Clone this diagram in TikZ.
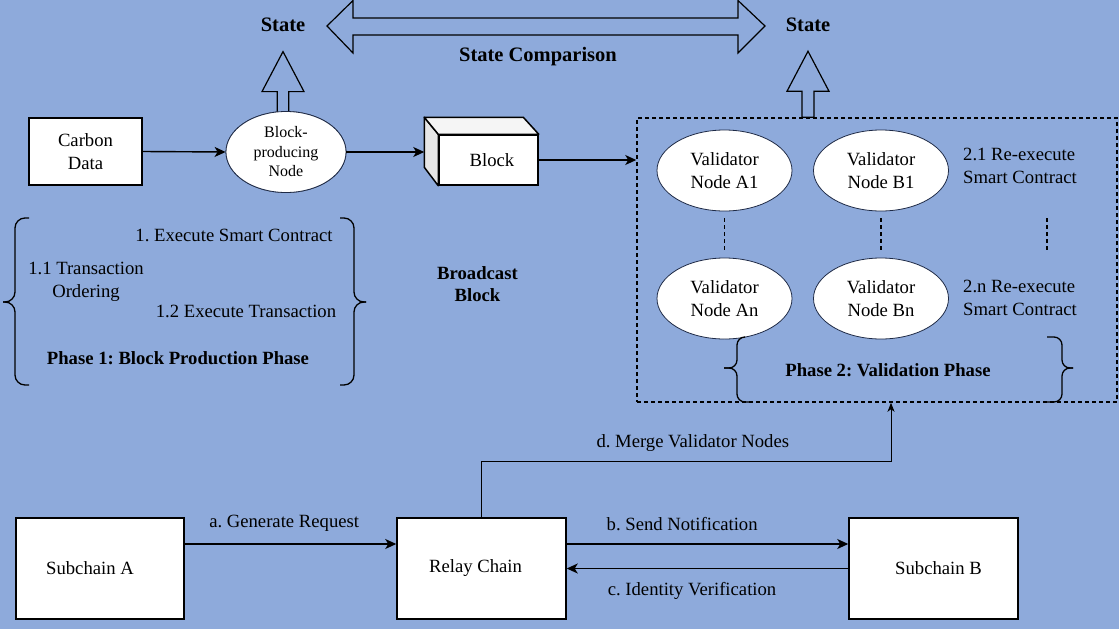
\documentclass[tikz,border=0pt]{standalone}
\usepackage{fontspec}
\setmainfont{Liberation Serif}
\usetikzlibrary{arrows.meta,calc,shapes.geometric}
\frenchspacing

\definecolor{bgblue}{RGB}{142,170,219}
\definecolor{rimnavy}{RGB}{30,42,70}
\definecolor{sidegray}{RGB}{230,230,230}
\definecolor{topgray}{RGB}{245,245,245}

\newcommand{\txtnormal}{\fontsize{18.67}{22.4}\selectfont}
\newcommand{\txtsmall}{\fontsize{16}{19.5}\selectfont}
\newcommand{\txthead}{\fontsize{20.5}{24}\selectfont\bfseries}

\begin{document}
\begin{tikzpicture}[
    x=1pt, y=-1pt,
    every node/.style={font=\txtnormal, inner sep=0pt, align=center},
    box/.style={rectangle, draw, line width=1.5pt, fill=white},
    oval/.style={ellipse, draw=rimnavy, line width=0.8pt, fill=white},
    arr/.style={-{Stealth[length=11pt,width=10pt,inset=3pt]}, line width=1.4pt},
    arrthin/.style={-{Stealth[length=9pt,width=7pt,inset=2.5pt]}, line width=1pt},
    blockarrow/.style={draw, line width=1.2pt, fill=bgblue, line join=miter},
    brc/.style={line width=1.3pt, rounded corners=10pt},
    vdash/.style={line width=1.2pt, dash pattern=on 4pt off 3pt}
]

\fill[bgblue] (0,0) rectangle (1119,629);
\useasboundingbox (0,0) rectangle (1119,629);

% state comparison at the top
\node[font=\txthead] (stateL) at (283,25) {State};
\node[font=\txthead] (stateR) at (808,25) {State};
\node[font=\txthead] (compare) at (538,57) {State Comparison};
\draw[blockarrow] (327,26) -- (353,0.5) -- (353,18) -- (738,18) -- (738,0.5) -- (765,26)
    -- (738,53) -- (738,35) -- (353,35) -- (353,53) -- cycle;

% phase 1
\node[box, minimum width=113pt, minimum height=67pt] (carbon) at (85.5,151.5) {Carbon\\Data};
\node[oval, minimum width=120pt, minimum height=81pt] (bpn) at (286,152) {};
\draw[blockarrow, shift={(bpn.north -| stateL)}] (-5.75,6) -- (-5.75,-19.5) -- (-21,-19.5) -- (0,-59.5)
    -- (21,-19.5) -- (5.75,-19.5) -- (5.75,6) -- cycle;
\node[oval, minimum width=120pt, minimum height=81pt] (bpn) at (286,152) {};
\node[font=\txtsmall] (bpntext) at (bpn.center) {Block-\\producing\\Node};

\node[box, minimum width=99pt, minimum height=50pt] (block) at (488.5,160) {\hspace{7pt}Block};
\draw[line width=1.5pt, fill=sidegray, line join=round] (block.north west) -- ++(-14,-17) -- ++(0,50) -- (block.south west) -- cycle;
\draw[line width=1.5pt, fill=topgray, line join=round] (block.north west) -- ++(-14,-17) -- ++(99,0) -- (block.north east) -- cycle;
\coordinate (blkback) at ($(block.north west)+(-14,-17)$);

\draw[arr] (carbon.east) -- (bpn.west);
\draw[arr] (bpn.east) -- (bpn.east -| blkback);

\node (exec) at (234,235) {1. Execute Smart Contract};
\node (order) at (86,282) {1.1 Transaction\\Ordering};
\node (exectx) at (246,311) {1.2 Execute Transaction};
\node[font=\txtnormal\bfseries] (phase1) at (178,358) {Phase 1: Block Production Phase};
\draw[brc] (29,218) -- (15,218) -- (15,302) -- (3,302);
\draw[brc] (29,385) -- (15,385) -- (15,302) -- (3,302);
\draw[brc] (340,218) -- (354,218) -- (354,302) -- (366,302);
\draw[brc] (340,385) -- (354,385) -- (354,302) -- (366,302);

\node[font=\txtnormal\bfseries] (bcast) at (477.5,284) {Broadcast\\Block};

% phase 2
\node[draw, line width=1.5pt, dash pattern=on 4pt off 3pt, minimum width=480pt, minimum height=284pt] (valbox) at (877,260) {};
\draw[blockarrow, shift={(valbox.north -| stateR)}] (-6,0) -- (-6,-26) -- (-21,-26) -- (0,-66)
    -- (21,-26) -- (6,-26) -- (6,0) -- cycle;
\draw[arr] (block.east) -- (block.east -| valbox.west);

\node[oval, minimum width=135pt, minimum height=81pt] (va1) at (724.5,170.5) {Validator\\Node A1};
\node[oval, minimum width=135pt, minimum height=81pt] (vb1) at (881,170.5) {Validator\\Node B1};
\node[oval, minimum width=135pt, minimum height=81pt] (van) at (724.5,298.5) {Validator\\Node An};
\node[oval, minimum width=135pt, minimum height=81pt] (vbn) at (881,298.5) {Validator\\Node Bn};
\node[anchor=west, align=left] (re1) at (963,166) {2.1 Re-execute\\Smart Contract};
\node[anchor=west, align=left] (ren) at (963,298) {2.n Re-execute\\Smart Contract};
\draw[vdash, shorten <=7pt, shorten >=6pt] (va1.south) -- (van.north);
\draw[vdash, shorten <=7pt, shorten >=6pt] (vb1.south) -- (vbn.north);
\draw[vdash] (1047,218) -- (1047,252);

\node[font=\txtnormal\bfseries] (phase2) at (888,370) {Phase 2: Validation Phase};
\draw[brc, rounded corners=8pt] (744,337) -- (737,337) -- (737,368) -- (724,368);
\draw[brc, rounded corners=8pt] (751,402) -- (737,402) -- (737,368) -- (724,368);
\draw[brc, rounded corners=8pt] (1047,337) -- (1062,337) -- (1062,368) -- (1073,368);
\draw[brc, rounded corners=8pt] (1047,402) -- (1062,402) -- (1062,368) -- (1073,368);

% cross-chain part
\node[box, minimum width=168pt, minimum height=101pt] (subA) at (100,568.5) {\hspace{-20pt}Subchain A};
\node[box, minimum width=169pt, minimum height=101pt] (relay) at (481.5,568.5) {\hspace{-12pt}Relay Chain};
\node[box, minimum width=169pt, minimum height=101pt] (subB) at (933.5,568.5) {\hspace{10pt}Subchain B};

\draw[arr] ([yshift=24.5pt]subA.east) -- node[pos=0.47, yshift=21pt] {a. Generate Request} ([yshift=24.5pt]relay.west);
\draw[arr] ([yshift=24.5pt]relay.east) -- node[pos=0.41, yshift=20pt] {b. Send Notification} ([yshift=24.5pt]subB.west);
\draw[arr] (subB.west) -- node[pos=0.555, yshift=-22pt] {c. Identity Verification} (relay.east);

\coordinate (dturn) at (891,461);
\draw[arrthin] (relay.north) |- node[pos=0.758, yshift=18pt] {d. Merge Validator Nodes} (dturn) -- (dturn |- valbox.south);

\end{tikzpicture}
\end{document}
